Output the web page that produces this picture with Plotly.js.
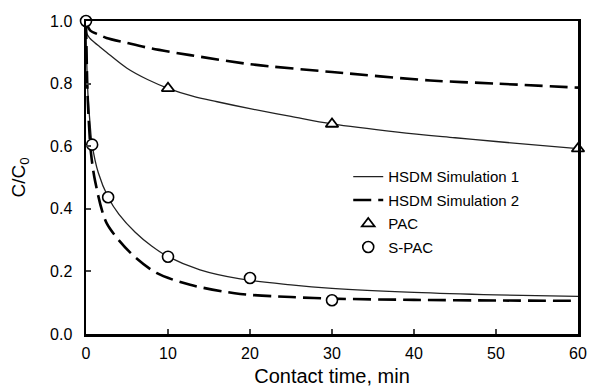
<!DOCTYPE html>
<html>
<head>
<meta charset="utf-8">
<script src="https://cdn.plot.ly/plotly-3.0.1.min.js"></script>
<style>html,body{margin:0;padding:0;background:#fff;}#chart{width:599px;height:389px;}</style>
</head>
<body>
<div id="chart"></div>
<script>
// Measured data
const pacTime = [10, 30, 60];
const pacValue = [0.785, 0.671, 0.592];
const spacTime = [0, 0.75, 2.7, 10, 20, 30];
const spacValue = [1.0, 0.605, 0.437, 0.247, 0.179, 0.108];

// HSDM Simulation 1 (solid)
const sim1PacTime = [0, 0.1, 0.5, 1, 1.7, 2.5, 5, 7.5, 10, 13, 16, 20, 25, 30, 38, 45, 50, 60];
const sim1PacValue = [1.0, 0.96, 0.944, 0.932, 0.917, 0.9, 0.849, 0.813, 0.785, 0.76, 0.742, 0.72, 0.695, 0.671, 0.645, 0.627, 0.615, 0.592];
const sim1SpacTime = [0, 0.1, 0.25, 0.5, 0.75, 1.5, 2.7, 4, 6, 8, 10, 13.9, 18.8, 25, 30, 40, 50, 60];
const sim1SpacValue = [1.0, 0.86, 0.76, 0.67, 0.605, 0.515, 0.437, 0.383, 0.325, 0.281, 0.247, 0.205, 0.176, 0.157, 0.146, 0.133, 0.125, 0.12];

// HSDM Simulation 2 (dashed)
const sim2PacTime = [0, 0.5, 1.7, 2.5, 5, 8, 12.7, 20, 30, 42, 50, 60];
const sim2PacValue = [1.0, 0.97, 0.955, 0.946, 0.93, 0.912, 0.891, 0.862, 0.837, 0.81, 0.8, 0.787];
const sim2SpacTime = [0, 0.15, 0.3, 0.6, 1.1, 2.5, 5.4, 8.6, 12.7, 18.8, 25, 30, 40, 50, 60];
const sim2SpacValue = [1.0, 0.8, 0.7, 0.58, 0.49, 0.355, 0.26, 0.195, 0.157, 0.128, 0.118, 0.113, 0.109, 0.107, 0.106];

const xTicks = [0, 10, 20, 30, 40, 50, 60];
const yTicks = [0.0, 0.2, 0.4, 0.6, 0.8, 1.0];

const solid = {color: '#222', width: 1.3, shape: 'spline', smoothing: 1};
const dashed = {color: '#000', width: 2.6, dash: '18px,7px', shape: 'spline', smoothing: 0.8};

const traces = [
  {x: sim1PacTime, y: sim1PacValue, mode: 'lines', line: solid, name: 'HSDM Simulation 1', legendgroup: 'a'},
  {x: sim1SpacTime, y: sim1SpacValue, mode: 'lines', line: solid, showlegend: false, legendgroup: 'a'},
  {x: sim2PacTime, y: sim2PacValue, mode: 'lines', line: dashed, name: 'HSDM Simulation 2', legendgroup: 'b'},
  {x: sim2SpacTime, y: sim2SpacValue, mode: 'lines', line: dashed, showlegend: false, legendgroup: 'b'},
  {x: pacTime, y: pacValue, mode: 'markers', name: 'PAC', legendgroup: 'c', cliponaxis: false,
   marker: {symbol: 'triangle-up', size: 11, color: '#fff', line: {color: '#000', width: 1.8}}},
  {x: spacTime, y: spacValue, mode: 'markers', name: 'S-PAC', legendgroup: 'd', cliponaxis: false,
   marker: {symbol: 'circle', size: 11, color: '#fff', line: {color: '#000', width: 1.6}}}
];

const layout = {
  width: 599, height: 389,
  margin: {l: 86, r: 21, t: 21, b: 55},
  paper_bgcolor: '#fff', plot_bgcolor: '#fff',
  font: {family: 'Liberation Sans, Arial, sans-serif', color: '#000', size: 16},
  showlegend: true,
  legend: {x: 0.533, y: 0.555, xanchor: 'left', yanchor: 'top', bgcolor: 'rgba(0,0,0,0)',
           font: {size: 15}, tracegroupgap: 1, traceorder: 'grouped'},
  xaxis: {range: [0, 60], tickvals: xTicks, ticktext: xTicks.map(String), ticks: 'inside', ticklen: 5, tickwidth: 2,
          ticklabelstandoff: 3,
          showline: true, linewidth: 2.5, linecolor: '#000', mirror: true, showgrid: false, zeroline: false,
          title: {text: 'Contact time, min', font: {size: 20}, standoff: 9}},
  yaxis: {range: [0, 1], tickvals: yTicks, ticktext: yTicks.map(v => v.toFixed(1)), ticks: 'inside', ticklen: 5, tickwidth: 2,
          ticklabelstandoff: 8,
          showline: true, linewidth: 2.5, linecolor: '#000', mirror: true, showgrid: false, zeroline: false,
          title: {text: 'C/C<sub>0</sub>', font: {size: 19}, standoff: 20}}
};

Plotly.newPlot('chart', traces, layout, {displayModeBar: false, staticPlot: true});
</script>
</body>
</html>
